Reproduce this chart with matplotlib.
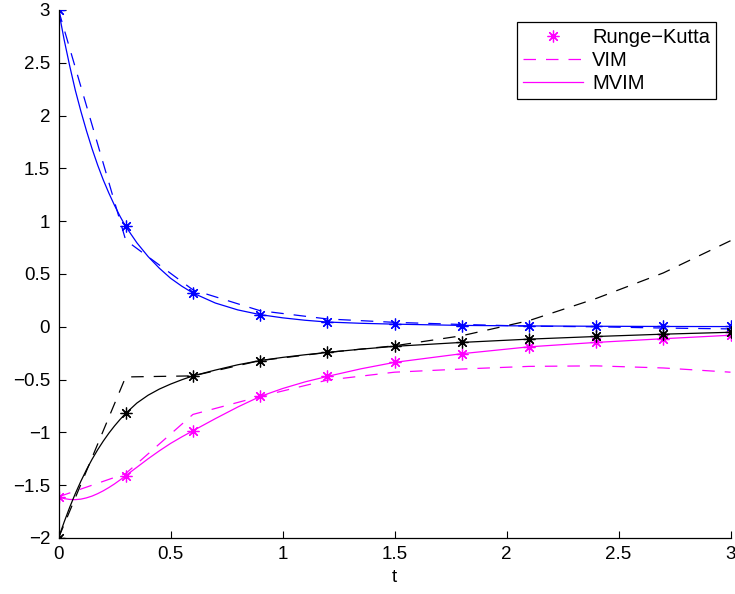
import matplotlib.pyplot as plt

plt.rcParams['font.family'] = ['Liberation Sans', 'DejaVu Sans']

# Runge-Kutta and VIM samples (step 0.3)
t_pts = [0.0, 0.3, 0.6, 0.9, 1.2, 1.5, 1.8, 2.1, 2.4, 2.7, 3.0]

rk_x = [3.0, 0.95, 0.32, 0.115, 0.045, 0.025, 0.012, 0.008, 0.006, 0.005, 0.004]
rk_y = [-2.0, -0.82, -0.465, -0.32, -0.243, -0.185, -0.148, -0.117, -0.092, -0.07, -0.052]
rk_z = [-1.61, -1.41, -0.985, -0.66, -0.47, -0.337, -0.255, -0.19, -0.148, -0.113, -0.08]

vim_x = [3.0, 0.82, 0.35, 0.152, 0.074, 0.042, 0.022, 0.006, 0.0, -0.012, -0.02]
vim_y = [-2.0, -0.475, -0.465, -0.32, -0.243, -0.18, -0.085, 0.058, 0.268, 0.51, 0.815]
vim_z = [-1.61, -1.39, -0.83, -0.66, -0.505, -0.43, -0.40, -0.375, -0.37, -0.39, -0.43]

# MVIM solution on a finer grid
t_fine = [0.0, 0.025, 0.05, 0.075, 0.1, 0.125, 0.15, 0.175, 0.2, 0.225, 0.25, 0.275,
          0.3, 0.35, 0.4, 0.45, 0.5, 0.55, 0.6, 0.7, 0.8, 0.9, 1.0, 1.1, 1.2, 1.35,
          1.5, 1.8, 2.1, 2.4, 2.7, 3.0]
mvim_x = [3.0, 2.72, 2.47, 2.24, 2.04, 1.855, 1.685, 1.53, 1.39, 1.265, 1.15, 1.045,
          0.95, 0.795, 0.665, 0.555, 0.46, 0.385, 0.32, 0.225, 0.16, 0.115, 0.085, 0.062,
          0.045, 0.033, 0.025, 0.013, 0.008, 0.005, 0.003, 0.002]
mvim_y = [-2.0, -1.85, -1.709, -1.58, -1.462, -1.353, -1.254, -1.164, -1.082, -1.007,
          -0.939, -0.877, -0.82, -0.722, -0.648, -0.59, -0.543, -0.502, -0.465, -0.41,
          -0.36, -0.32, -0.29, -0.265, -0.243, -0.212, -0.185, -0.148, -0.117, -0.092,
          -0.07, -0.052]
mvim_z = [-1.61, -1.627, -1.635, -1.637, -1.632, -1.62, -1.603, -1.58, -1.553, -1.522,
          -1.488, -1.45, -1.41, -1.33, -1.25, -1.175, -1.105, -1.043, -0.985, -0.87,
          -0.76, -0.66, -0.585, -0.522, -0.47, -0.398, -0.337, -0.255, -0.19, -0.148,
          -0.113, -0.08]

fig = plt.figure(figsize=(7.35, 5.94), dpi=100)
ax = fig.add_axes([0.0796, 0.0943, 0.9143, 0.8889])

star = (8, 2, 0)
dash = (10, 8)
lw = 0.9

ax.plot(t_pts, rk_z, linestyle='none', marker=star, ms=8.5, mew=0.9, color='#ff00ff', label='Runge\u2212Kutta')
ax.plot(t_pts, vim_z, linestyle='--', dashes=dash, lw=lw, color='#ff00ff', label='VIM')
ax.plot(t_fine, mvim_z, '-', lw=lw, color='#ff00ff', label='MVIM')

ax.plot(t_pts, rk_x, linestyle='none', marker=star, ms=8.5, mew=0.9, color='#0000ff')
ax.plot(t_pts, vim_x, linestyle='--', dashes=dash, lw=lw, color='#0000ff')
ax.plot(t_fine, mvim_x, '-', lw=lw, color='#0000ff')

ax.plot(t_pts, rk_y, linestyle='none', marker=star, ms=8.5, mew=0.9, color='black')
ax.plot(t_pts, vim_y, linestyle='--', dashes=dash, lw=lw, color='black')
ax.plot(t_fine, mvim_y, '-', lw=lw, color='black')

ax.set_xlim(0, 3)
ax.set_ylim(-2, 3)
ax.set_xticks([0, 0.5, 1, 1.5, 2, 2.5, 3])
ax.set_xticklabels(['0', '0.5', '1', '1.5', '2', '2.5', '3'])
ax.set_yticks([-2, -1.5, -1, -0.5, 0, 0.5, 1, 1.5, 2, 2.5, 3])
ax.set_yticklabels(['\u22122', '\u22121.5', '\u22121', '\u22120.5', '0', '0.5', '1', '1.5', '2', '2.5', '3'])
ax.tick_params(direction='in', length=5, width=0.8, labelsize=13.5, pad=6)
ax.spines['top'].set_visible(False)
ax.spines['right'].set_visible(False)
for s in ('left', 'bottom'):
    ax.spines[s].set_linewidth(0.9)
ax.set_xlabel('t', fontsize=13.5, labelpad=4)

leg = ax.legend(loc='upper right', bbox_to_anchor=(0.979, 0.978), borderaxespad=0,
                fontsize=14.5, numpoints=1, handlelength=3.0, handletextpad=0.45,
                labelspacing=0.2, borderpad=0.3, fancybox=False, framealpha=1)
leg.get_frame().set_edgecolor('black')
leg.get_frame().set_linewidth(0.9)

fig.savefig('out.png', dpi=100)
